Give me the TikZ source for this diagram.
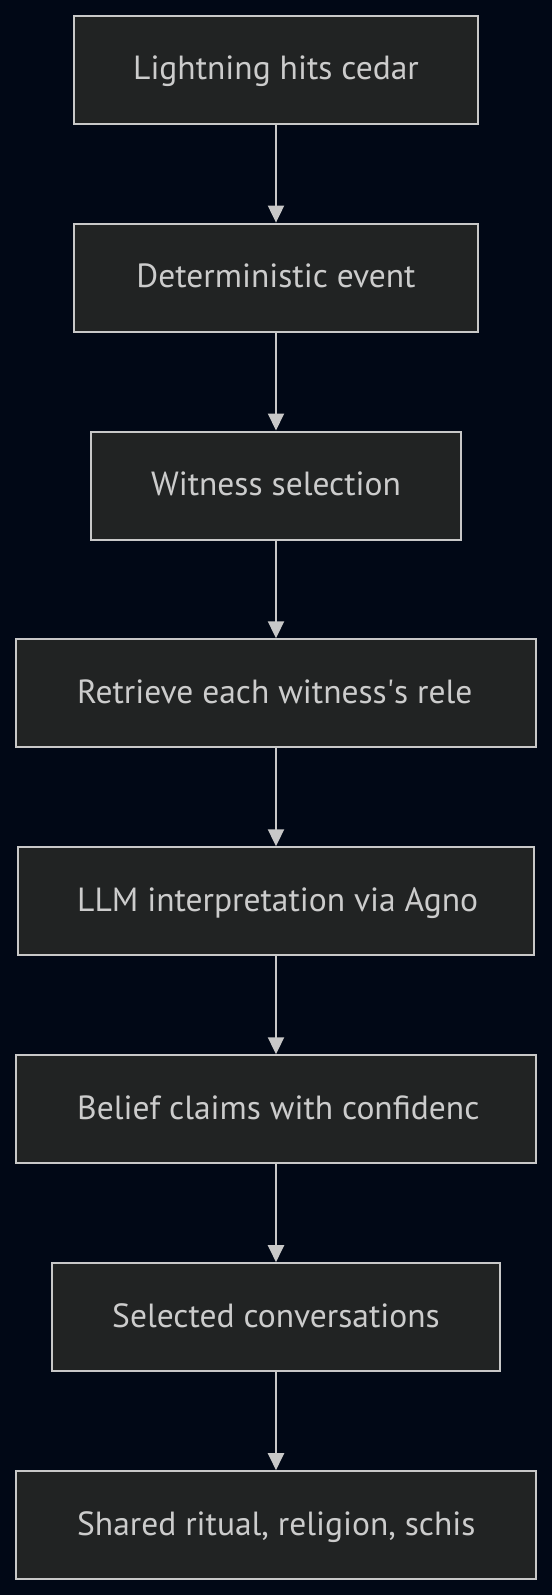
\documentclass[tikz,border=0pt]{standalone}
\usepackage{fontspec}
\setmainfont{PT Sans}
\usetikzlibrary{arrows.meta}
\definecolor{bg}{RGB}{1,8,22}
\definecolor{boxfill}{RGB}{33,35,35}
\definecolor{boxline}{RGB}{200,200,200}
\definecolor{txt}{RGB}{204,204,204}
\tikzset{
  flowbox/.style={draw=boxline, fill=boxfill, line width=2pt, minimum height=108pt, inner sep=0pt},
  flowtext/.style={text=txt, font=\fontsize{33.5}{38}\selectfont, anchor=base, inner sep=0pt},
  cuttext/.style={flowtext, anchor=base west},
  flowarrow/.style={draw=boxline, line width=2pt, -{Triangle[width=16pt,length=17pt]}}
}
\begin{document}
\begin{tikzpicture}[x=1pt,y=-1pt]
\fill[bg] (0,0) rectangle (552,1595);
\useasboundingbox (0,0) rectangle (552,1595);
\node[flowbox, minimum width=404.6pt] (n1) at (276,69.9) {};
\node[flowbox, minimum width=404.6pt] (n2) at (276,277.6) {};
\node[flowbox, minimum width=370pt] (n3) at (276,485.5) {};
\node[flowbox, minimum width=520.6pt] (n4) at (276,693.3) {};
\node[flowbox, minimum width=516.6pt] (n5) at (276,901.3) {};
\node[flowbox, minimum width=520.6pt] (n6) at (276,1109.3) {};
\node[flowbox, minimum width=448.6pt] (n7) at (276,1317.2) {};
\node[flowbox, minimum width=520.6pt] (n8) at (276,1525.2) {};
\node[flowtext] (t1) at ([yshift=-10pt]n1.center) {Lightning hits cedar};
\node[flowtext] (t2) at ([yshift=-10pt]n2.center) {Deterministic event};
\node[flowtext] (t3) at ([yshift=-10pt]n3.center) {Witness selection};
\node[cuttext] (t4) at ([yshift=-10pt]n4.center -| 77,0) {Retrieve each witness\textquotesingle s rele};
\node[cuttext] (t5) at ([yshift=-10pt]n5.center -| 77,0) {LLM interpretation via Agno};
\node[cuttext] (t6) at ([yshift=-10pt]n6.center -| 77,0) {Belief claims with confidenc};
\node[flowtext] (t7) at ([yshift=-10pt]n7.center) {Selected conversations};
\node[cuttext] (t8) at ([yshift=-10pt]n8.center -| 77,0) {Shared ritual, religion, schis};
\draw[flowarrow] (n1) -- (n2);
\draw[flowarrow] (n2) -- (n3);
\draw[flowarrow] (n3) -- (n4);
\draw[flowarrow] (n4) -- (n5);
\draw[flowarrow] (n5) -- (n6);
\draw[flowarrow] (n6) -- (n7);
\draw[flowarrow] (n7) -- (n8);
\end{tikzpicture}
\end{document}
